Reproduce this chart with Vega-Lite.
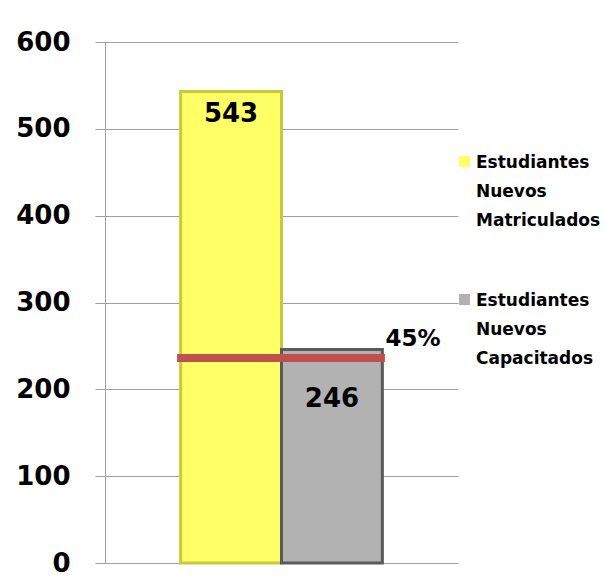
{
  "$schema": "https://vega.github.io/schema/vega-lite/v6.json",
  "width": 353,
  "height": 521,
  "autosize": {"type": "none"},
  "padding": {"left": 105, "top": 42, "right": 153, "bottom": 15},
  "background": "white",
  "config": {
    "view": {"stroke": null},
    "font": "DejaVu Sans",
    "style": {"guide-label": {"lineHeight": 29, "dy": -7}}
  },
  "datasets": {
    "bars": [
      {"categoria": "Estudiantes Nuevos Matriculados", "valor": 543},
      {"categoria": "Estudiantes Nuevos Capacitados", "valor": 246}
    ],
    "meta": [
      {"desde": "Estudiantes Nuevos Matriculados", "hasta": "Estudiantes Nuevos Capacitados", "valor": 236, "etiqueta": "45%"}
    ]
  },
  "layer": [
    {
      "data": {"name": "bars"},
      "mark": {"type": "bar", "strokeWidth": 3},
      "encoding": {
        "x": {
          "field": "categoria", "type": "nominal", "sort": null,
          "scale": {"domain": ["Estudiantes Nuevos Matriculados", "Estudiantes Nuevos Capacitados"], "paddingInner": 0, "paddingOuter": 0.75},
          "axis": {"labels": false, "ticks": false, "title": null, "domainColor": "#A0A0A0", "domainWidth": 1}
        },
        "y": {
          "field": "valor", "type": "quantitative",
          "scale": {"domain": [0, 600], "nice": false},
          "axis": {
            "values": [0, 100, 200, 300, 400, 500, 600],
            "title": null,
            "gridColor": "#A0A0A0", "gridWidth": 1,
            "domainColor": "#A0A0A0",
            "tickColor": "#A0A0A0", "tickSize": 10,
            "labelFont": "DejaVu Sans", "labelFontSize": 26, "labelFontWeight": "bold",
            "labelColor": "#000000", "labelPadding": 25, "labelOffset": 7
          }
        },
        "color": {
          "field": "categoria", "type": "nominal",
          "scale": {"domain": ["Estudiantes Nuevos Matriculados", "Estudiantes Nuevos Capacitados"], "range": ["#FFFF66", "#B2B2B2"]},
          "legend": {
            "title": null,
            "orient": "none",
            "legendX": 351,
            "legendY": 111,
            "symbolType": "square",
            "symbolSize": 121,
            "symbolStrokeWidth": 0,
            "labelFont": "DejaVu Sans",
            "labelFontSize": 17,
            "labelFontWeight": "bold",
            "labelColor": "#000000",
            "labelOffset": 3,
            "labelBaseline": "top",
            "labelLimit": 200,
            "rowPadding": 62,
            "labelExpr": "split(datum.label, ' ')"
          }
        },
        "stroke": {
          "field": "categoria", "type": "nominal",
          "scale": {"domain": ["Estudiantes Nuevos Matriculados", "Estudiantes Nuevos Capacitados"], "range": ["#C9C93A", "#5A5A5A"]},
          "legend": null
        }
      }
    },
    {
      "data": {"name": "bars"},
      "transform": [{"filter": "datum.valor > 300"}],
      "mark": {"type": "text", "baseline": "top", "dy": 10, "font": "DejaVu Sans", "fontSize": 26, "fontWeight": "bold", "color": "#000000"},
      "encoding": {
        "x": {"field": "categoria", "type": "nominal", "sort": null},
        "y": {"field": "valor", "type": "quantitative"},
        "text": {"field": "valor", "type": "quantitative"}
      }
    },
    {
      "data": {"name": "bars"},
      "transform": [{"filter": "datum.valor < 300"}],
      "mark": {"type": "text", "baseline": "middle", "dy": 50, "font": "DejaVu Sans", "fontSize": 26, "fontWeight": "bold", "color": "#000000"},
      "encoding": {
        "x": {"field": "categoria", "type": "nominal", "sort": null},
        "y": {"field": "valor", "type": "quantitative"},
        "text": {"field": "valor", "type": "quantitative"}
      }
    },
    {
      "data": {"name": "meta"},
      "mark": {"type": "rule", "color": "#C0504D", "strokeWidth": 8, "xOffset": -54, "x2Offset": 53},
      "encoding": {
        "x": {"field": "desde", "type": "nominal", "sort": null},
        "x2": {"field": "hasta"},
        "y": {"field": "valor", "type": "quantitative"}
      }
    },
    {
      "data": {"name": "meta"},
      "mark": {"type": "text", "align": "center", "baseline": "middle", "dx": 81, "dy": -19, "font": "DejaVu Sans", "fontSize": 23, "fontWeight": "bold", "color": "#000000"},
      "encoding": {
        "x": {"field": "hasta", "type": "nominal", "sort": null},
        "y": {"field": "valor", "type": "quantitative"},
        "text": {"field": "etiqueta", "type": "nominal"}
      }
    }
  ]
}
